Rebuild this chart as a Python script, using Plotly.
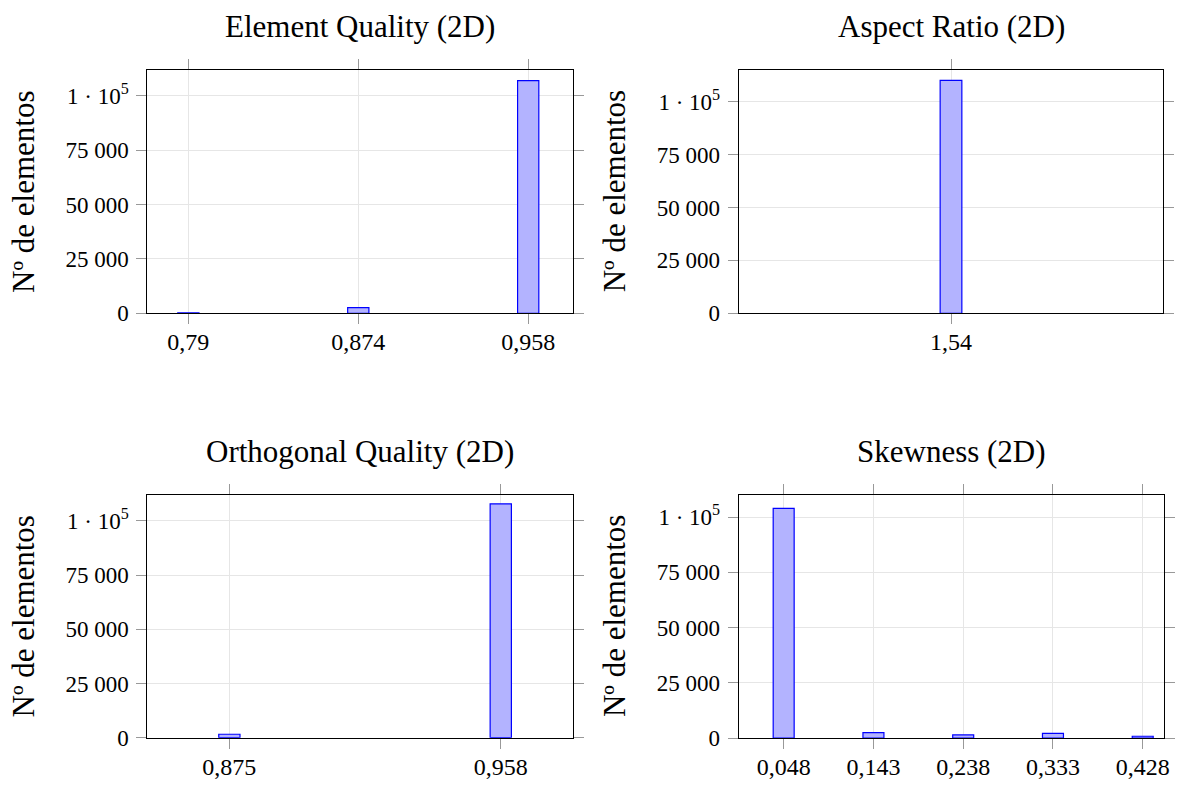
import plotly.graph_objects as go

# ---- data ----
eq_x = [0.79, 0.874, 0.958]
eq_y = [250, 2600, 106900]
eq_ticks = ["0,79", "0,874", "0,958"]

ar_x = [1.54]
ar_y = [110100]
ar_ticks = ["1,54"]

oq_x = [0.875, 0.958]
oq_y = [1600, 107900]
oq_ticks = ["0,875", "0,958"]

sk_x = [0.048, 0.143, 0.238, 0.333, 0.428]
sk_y = [103900, 2400, 1400, 2100, 800]
sk_ticks = ["0,048", "0,143", "0,238", "0,333", "0,428"]

titles = ["Element Quality (2D)", "Aspect Ratio (2D)",
          "Orthogonal Quality (2D)", "Skewness (2D)"]
y_title = "Nº de elementos"
y_tickvals = [0, 25000, 50000, 75000, 100000]
y_ticktext = ["0", "25 000", "50 000", "75 000", "1 · 10<sup>5</sup>"]

W, H = 1181, 785
FONT = "Liberation Serif"

panels = [
    dict(x=eq_x, y=eq_y, ticks=eq_ticks, w=0.0105, xr=[0.7697, 0.980], yr=[0, 111800],
         box=(147.3, 572.7, 70, 313.3)),
    dict(x=ar_x, y=ar_y, ticks=ar_ticks, w=0.0100, xr=[1.4422, 1.6378], yr=[0, 115000],
         box=(738.7, 1163.3, 70, 313.3)),
    dict(x=oq_x, y=oq_y, ticks=oq_ticks, w=0.0065, xr=[0.8499, 0.980], yr=[0, 112100],
         box=(147.3, 572.7, 494.7, 737.7)),
    dict(x=sk_x, y=sk_y, ticks=sk_ticks, w=0.0222, xr=[0.0004, 0.4502], yr=[0, 110100],
         box=(738.7, 1163.7, 494.7, 738.0)),
]

fig = go.Figure()
layout = dict(
    width=W, height=H,
    margin=dict(l=0, r=0, t=0, b=0),
    paper_bgcolor="white", plot_bgcolor="white",
    showlegend=False,
    font=dict(family=FONT, color="black"),
    annotations=[],
)

for i, p in enumerate(panels):
    n = "" if i == 0 else str(i + 1)
    x0, x1, y0, y1 = p["box"]
    fig.add_trace(go.Bar(
        x=p["x"], y=p["y"], width=[p["w"]] * len(p["x"]),
        marker=dict(color="#b3b3ff", line=dict(color="#0000ff", width=1.2)),
        xaxis="x" + n, yaxis="y" + n,
    ))
    layout["xaxis" + n] = dict(
        domain=[x0 / W, x1 / W], anchor="y" + n, range=p["xr"],
        tickvals=p["x"], ticktext=p["ticks"],
        showgrid=True, gridcolor="#e6e6e6", gridwidth=1,
        showline=True, linecolor="black", linewidth=1, mirror="allticks",
        ticks="outside", ticklen=10, tickcolor="#999999", tickwidth=1.2,
        tickfont=dict(family=FONT, size=24, color="black"),
        ticklabelstandoff=-3, zeroline=False, automargin=False, fixedrange=True,
    )
    layout["yaxis" + n] = dict(
        domain=[1 - y1 / H, 1 - y0 / H], anchor="x" + n, range=p["yr"],
        tickvals=y_tickvals, ticktext=y_ticktext,
        showgrid=True, gridcolor="#e6e6e6", gridwidth=1,
        showline=True, linecolor="black", linewidth=1, mirror="allticks",
        ticks="outside", ticklen=10, tickcolor="#999999", tickwidth=1.2,
        tickfont=dict(family=FONT, size=23, color="black"),
        ticklabelstandoff=3, zeroline=False, automargin=False, fixedrange=True,
    )
    layout["annotations"].append(dict(
        text=titles[i], x=(x0 + x1) / 2 / W, y=1 - (y0 - 43) / H,
        xref="paper", yref="paper", xanchor="center", yanchor="middle",
        showarrow=False, font=dict(family=FONT, size=31, color="black"),
    ))
    layout["annotations"].append(dict(
        text=y_title, x=(x0 - 124) / W, y=1 - ((y0 + y1) / 2) / H,
        xref="paper", yref="paper", xanchor="center", yanchor="middle",
        textangle=-90, showarrow=False, font=dict(family=FONT, size=31, color="black"),
    ))

fig.update_layout(**layout)
fig.write_html("out.html", config={"displayModeBar": False},
               post_script="document.body.style.margin='0';document.body.style.overflow='hidden';")
